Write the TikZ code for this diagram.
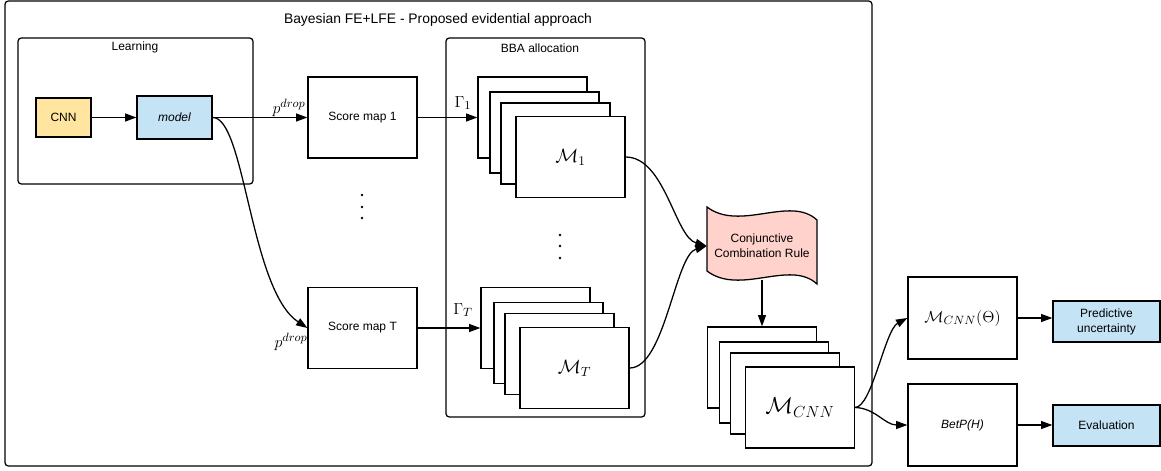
\documentclass[tikz,border=0pt]{standalone}
\usepackage[no-math]{fontspec}
\newfontfamily\arial{Liberation Sans}
\usetikzlibrary{arrows.meta}
\definecolor{cnnyellow}{HTML}{FFE59F}
\definecolor{modelblue}{HTML}{C4E3F5}
\definecolor{rulepink}{HTML}{FFD3CC}
\begin{document}
\begin{tikzpicture}[
 x=.75pt,y=-.75pt,
 line/.style={line width=.95pt},
 arrow/.style={line,-{Triangle[length=8.5pt,width=6pt]}},
 frame/.style={line,rounded corners=2.5pt},
 label/.style={font=\arial\fontsize{9}{11.25}\selectfont,align=center},
 box/.style={label,draw,line width=.95pt,inner sep=1pt},
 sheet/.style={box,fill=white,minimum width=81.75pt,minimum height=60.75pt},
 mlabel/.style={inner sep=0pt,font=\fontsize{12.5}{14}\selectfont}]
 \useasboundingbox (0,0) rectangle (1161,471);
 % group frames and their titles
 \draw[frame] (5,1) rectangle (872,466);
 \draw[frame] (18,38) rectangle (253,184);
 \draw[frame] (446,38) rectangle (645,417);
 \node[label,font=\arial\fontsize{10.4}{12}\selectfont] (ttlmain) at (438,20) {Bayesian FE+LFE - Proposed evidential approach};
 \node[label] (ttllearn) at (135,47) {Learning};
 \node[label] (ttlbba) at (540,48) {BBA allocation};
 % learning
 \node[box,fill=cnnyellow,minimum width=41.25pt,minimum height=29.25pt] (cnn) at (63.5,117.5) {CNN};
 \node[box,fill=modelblue,minimum width=56.25pt,minimum height=32.25pt] (model) at (174.5,117.5) {\itshape model};
 \draw[arrow] (cnn) -- (model);
 % score maps
 \node[sheet] (smone) at (362.5,117.5) {Score map 1};
 \node[sheet] (smT) at (362.5,328) {Score map T};
 \foreach \y in {195,207,218} \fill (362,\y) circle (1pt);
 \draw[arrow] (model) -- (smone);
 \draw[arrow] (model.east) .. controls (245,117) and (250,290) .. (smT.west);
 \node[mlabel] (pdone) at (289,108) {$p^{drop}$};
 \node[mlabel] (pdT) at (291,342) {$p^{drop}$};
 % BBA stacks
 \foreach \sn/\dx/\dy in {a/0/0,b/12/15,c/23/26}
  \node[sheet] (mone\sn) at (532.5+\dx,117.5+\dy) {};
 \node[sheet,font=\fontsize{14}{16}\selectfont] (moned) at (570.5,157) {$\mathcal{M}_1$};
 \foreach \sn/\dx/\dy in {a/0/0,b/13/15,c/24/26}
  \node[sheet] (mT\sn) at (535.5+\dx,328+\dy) {};
 \node[sheet,font=\fontsize{14}{16}\selectfont] (mTd) at (574.5,368) {$\mathcal{M}_T$};
 \foreach \y in {235,246,258} \fill (560,\y) circle (1pt);
 \draw[arrow] (smone) -- (monea);
 \draw[arrow] (smT) -- (mTa);
 \node[mlabel] (gone) at (463,103) {$\Gamma_1$};
 \node[mlabel] (gT) at (463,310) {$\Gamma_T$};
 % combination
 \draw[line,fill=rulepink] (707,207) .. controls (740,232) and (790,195) .. (817,220)
  -- (817,284) .. controls (790,259) and (740,296) .. (707,271) -- cycle;
 \node[label,minimum width=82.5pt,inner sep=0pt] (conj) at (762,246) {Conjunctive\\Combination Rule};
 \coordinate (conjb) at (762,280);
 \draw[arrow] (moned.east) .. controls (665,157) and (675,237) .. (conj.west);
 \draw[arrow] (mTd.east) .. controls (665,368) and (675,255) .. (conj.west);
 \foreach \sn/\dx/\dy in {a/0/0,b/12/15,c/23/26}
  \node[sheet] (mcnn\sn) at (762+\dx,367.5+\dy) {};
 \node[sheet,font=\fontsize{18}{20}\selectfont] (mcnnd) at (800,407.5) {$\mathcal{M}_{CNN}$};
 \draw[arrow] (conjb) -- (conjb |- mcnna.north);
 % outputs
 \node[sheet,minimum height=61.5pt,font=\fontsize{12.5}{14}\selectfont] (theta) at (962.5,318) {$\mathcal{M}_{CNN}(\Theta)$};
 \node[sheet,minimum height=61.5pt] (betp) at (962.5,425) {\itshape BetP(H)};
 \node[box,fill=modelblue,minimum width=80.25pt,minimum height=30.75pt] (pred) at (1106.5,321.5) {Predictive\\uncertainty};
 \node[box,fill=modelblue,minimum width=80.25pt,minimum height=30.75pt] (eval) at (1106.5,425.5) {Evaluation};
 \draw[arrow] (mcnnd.east) .. controls (872,407) and (885,330) .. (theta.west);
 \draw[arrow] (mcnnd.east) .. controls (875,408) and (885,425) .. (betp.west);
 \draw[arrow] (theta.east) -- (theta.east -| pred.west);
 \draw[arrow] (betp.east) -- (betp.east -| eval.west);
\end{tikzpicture}
\end{document}
